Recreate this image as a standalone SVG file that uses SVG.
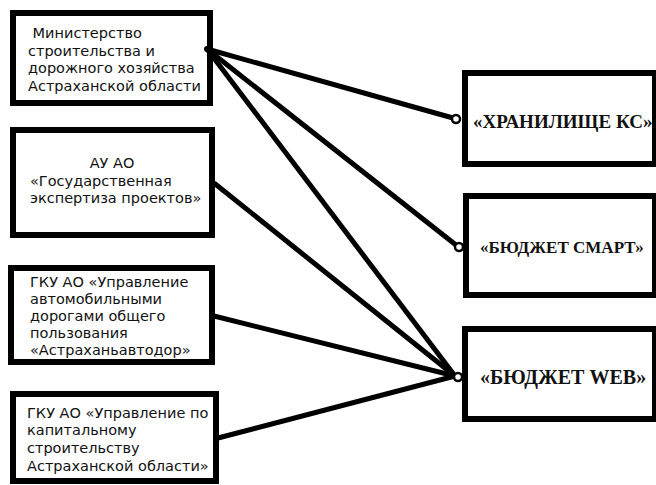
<svg xmlns="http://www.w3.org/2000/svg" width="656" height="485" viewBox="0 0 656 485">
<style>
.box{fill:#fff;stroke:#000;stroke-width:6}
.lt{font-family:"DejaVu Sans",Verdana,sans-serif;font-size:14.5px;fill:#111}
.rt{font-family:"Liberation Serif","Times New Roman",serif;font-weight:bold;font-size:17px;fill:#111}
.ln{stroke:#000;stroke-width:5;fill:none}
.dot{fill:#fff;stroke:#000;stroke-width:2.5}
</style>
<rect width="656" height="485" fill="#fff"/>
<g id="n1"><rect class="box" x="13" y="13" width="197" height="90"/>
<text class="lt" x="28" y="38" xml:space="preserve"> Министерство</text>
<text class="lt" x="28" y="56">строительства и</text>
<text class="lt" x="28" y="73">дорожного хозяйства</text>
<text class="lt" x="28" y="91">Астраханской области</text></g>
<g id="n2"><rect class="box" x="13" y="130" width="199" height="105"/>
<text class="lt" x="112" y="168" text-anchor="middle">АУ АО</text>
<text class="lt" x="30" y="186">«Государственная</text>
<text class="lt" x="30" y="203">экспертиза проектов»</text></g>
<g id="n3"><rect class="box" x="11" y="268" width="201" height="94"/>
<text class="lt" x="30" y="287">ГКУ АО «Управление</text>
<text class="lt" x="30" y="304">автомобильными</text>
<text class="lt" x="30" y="321">дорогами общего</text>
<text class="lt" x="30" y="338">пользования</text>
<text class="lt" x="30" y="355">«Астраханьавтодор»</text></g>
<g id="n4"><rect class="box" x="13" y="394" width="203" height="87"/>
<text class="lt" x="27" y="418">ГКУ АО «Управление по</text>
<text class="lt" x="27" y="435">капитальному</text>
<text class="lt" x="27" y="453">строительству</text>
<text class="lt" x="27" y="471">Астраханской области»</text></g>
<g id="r1"><rect class="box" x="465" y="73" width="190" height="91"/>
<text class="rt" x="473" y="128" style="font-size:19px">«ХРАНИЛИЩЕ КС»</text></g>
<g id="r2"><rect class="box" x="466" y="196" width="189" height="99"/>
<text class="rt" x="480" y="253">«БЮДЖЕТ СМАРТ»</text></g>
<g id="r3"><rect class="box" x="465" y="329" width="190" height="90"/>
<text class="rt" x="480" y="384" style="font-size:20px">«БЮДЖЕТ WEB»</text></g>
<g id="connectors">
<line class="ln" x1="207" y1="49" x2="453" y2="118"/>
<line class="ln" x1="207" y1="49" x2="456" y2="245"/>
<line class="ln" x1="207" y1="49" x2="455" y2="376"/>
<line class="ln" x1="214" y1="183" x2="455" y2="376"/>
<line class="ln" x1="214" y1="316" x2="455" y2="376"/>
<line class="ln" x1="218" y1="438" x2="455" y2="376"/>
<circle cx="207" cy="49" r="3" fill="#000"/>
<circle class="dot" cx="456" cy="119" r="4"/>
<circle class="dot" cx="459" cy="247" r="4"/>
<circle class="dot" cx="458" cy="377" r="4"/>
</g>
</svg>
